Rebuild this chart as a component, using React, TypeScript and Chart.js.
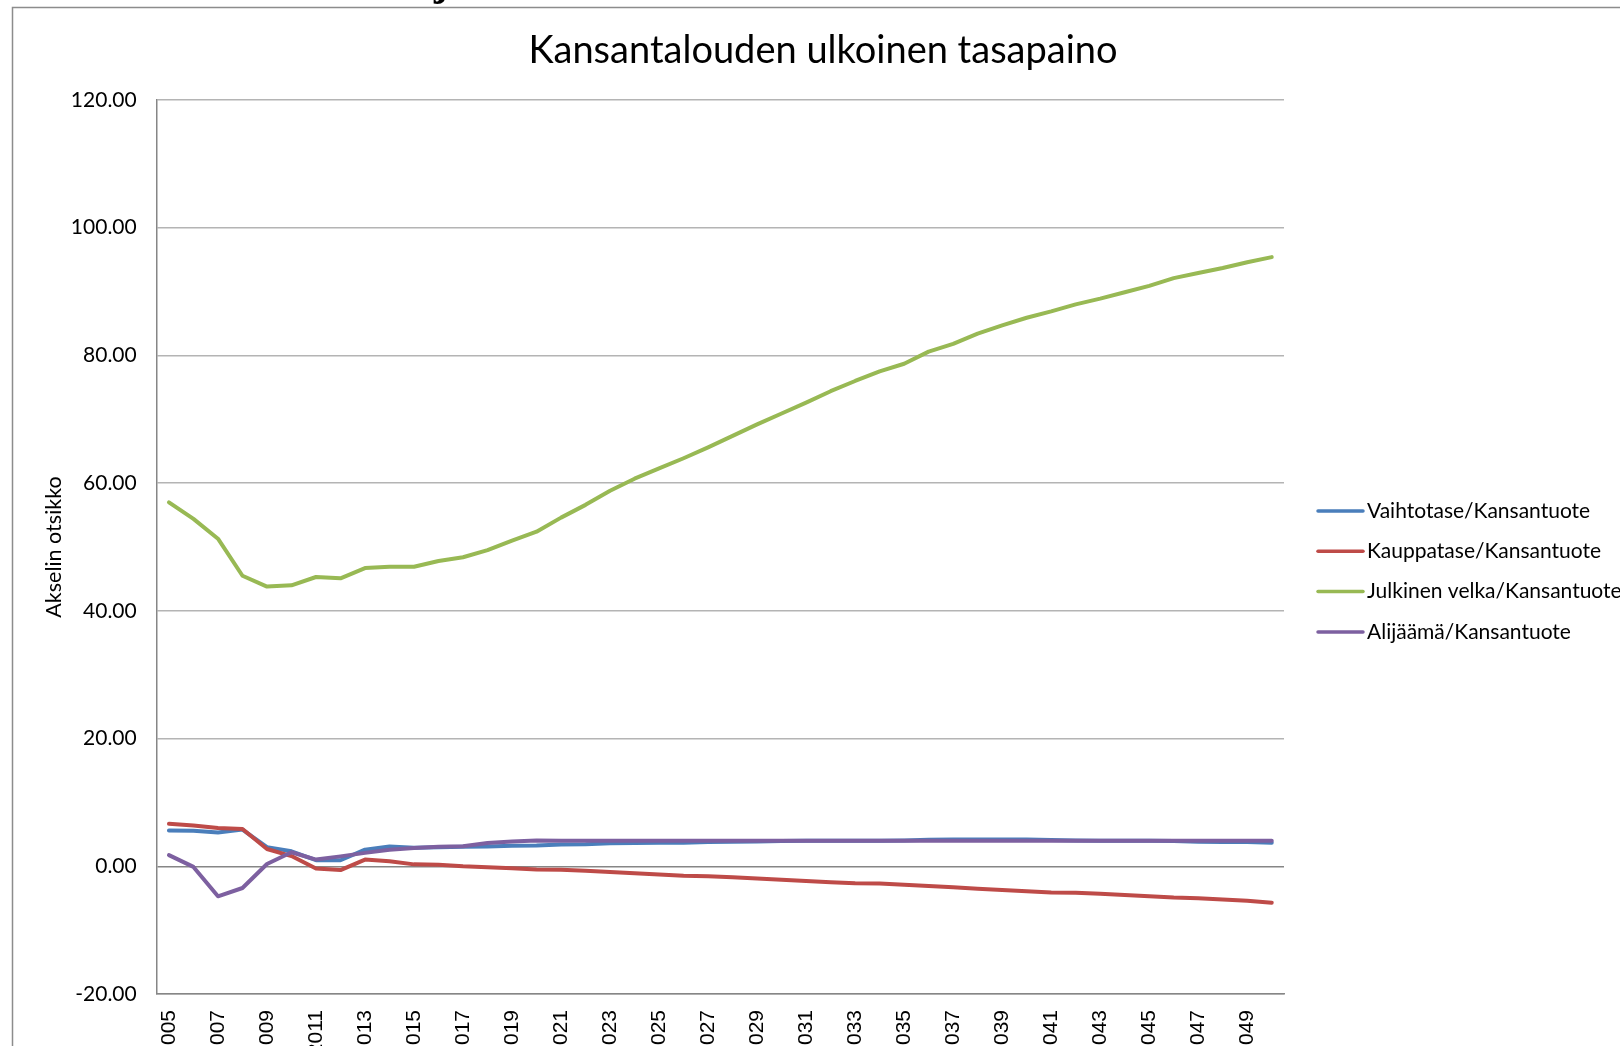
import React, { useEffect, useRef } from 'react';
import { Chart, registerables } from 'chart.js';

Chart.register(...registerables);

const years = [
  '2005', '2006', '2007', '2008', '2009', '2010', '2011', '2012', '2013', '2014',
  '2015', '2016', '2017', '2018', '2019', '2020', '2021', '2022', '2023', '2024',
  '2025', '2026', '2027', '2028', '2029', '2030', '2031', '2032', '2033', '2034',
  '2035', '2036', '2037', '2038', '2039', '2040', '2041', '2042', '2043', '2044',
  '2045', '2046', '2047', '2048', '2049', '2050',
];

const vaihtotase = [
  5.6, 5.55, 5.3, 5.75, 3.0, 2.35, 0.95, 0.95, 2.6, 3.1,
  2.9, 3.0, 3.05, 3.1, 3.2, 3.25, 3.4, 3.45, 3.6, 3.65,
  3.7, 3.7, 3.8, 3.85, 3.9, 3.95, 4.0, 4.0, 4.0, 4.0,
  4.05, 4.15, 4.2, 4.2, 4.2, 4.2, 4.1, 4.05, 4.0, 4.0,
  4.0, 3.95, 3.85, 3.8, 3.8, 3.7,
];

const kauppatase = [
  6.65, 6.4, 6.0, 5.85, 2.7, 1.6, -0.35, -0.6, 1.05, 0.8,
  0.3, 0.25, 0.0, -0.15, -0.3, -0.5, -0.55, -0.7, -0.9, -1.1,
  -1.3, -1.5, -1.55, -1.7, -1.9, -2.1, -2.3, -2.5, -2.65, -2.7,
  -2.9, -3.1, -3.3, -3.5, -3.7, -3.9, -4.1, -4.15, -4.3, -4.5,
  -4.7, -4.9, -5.0, -5.2, -5.4, -5.7,
];

const julkinenVelka = [
  57.0, 54.4, 51.3, 45.5, 43.8, 44.0, 45.3, 45.1, 46.7, 46.9,
  46.9, 47.8, 48.4, 49.5, 51.0, 52.4, 54.6, 56.6, 58.8, 60.7,
  62.3, 63.9, 65.6, 67.4, 69.2, 70.9, 72.6, 74.4, 76.0, 77.5,
  78.7, 80.6, 81.8, 83.4, 84.7, 85.9, 86.9, 88.0, 88.9, 89.9,
  90.9, 92.1, 92.9, 93.7, 94.6, 95.4,
];

const alijaama = [
  1.75, -0.1, -4.7, -3.4, 0.35, 2.2, 1.05, 1.55, 2.1, 2.6,
  2.85, 3.05, 3.15, 3.65, 3.9, 4.05, 4.0, 4.0, 4.0, 4.0,
  4.0, 4.0, 4.0, 4.0, 4.0, 4.0, 4.0, 4.0, 4.0, 4.0,
  4.0, 4.0, 4.0, 4.0, 4.0, 4.0, 4.0, 4.0, 4.0, 4.0,
  4.0, 4.0, 4.0, 4.0, 4.0, 4.0,
];

const seriesNames = [
  'Vaihtotase/Kansantuote',
  'Kauppatase/Kansantuote',
  'Julkinen velka/Kansantuote',
  'Alijäämä/Kansantuote',
];
const seriesColors = ['#4A7EBB', '#BE4B48', '#98B954', '#7D60A0'];

const chartTitle = 'Kansantalouden ulkoinen tasapaino';
const yAxisTitle = 'Akselin otsikko';
const yMin = -20;
const yMax = 120;
const yStep = 20;

const W = 1646;
const H = 1070;
const AREA_LEFT = 156.7;
const AREA_TOP = 100;
const AREA_RIGHT = 1284;
const AREA_BOTTOM = 994;
const FONT = 'Lato';

const framePlugin = {
  id: 'frame',
  beforeDraw(chart: any) {
    const ctx = chart.ctx;
    ctx.save();
    ctx.fillStyle = '#ffffff';
    ctx.fillRect(0, 0, chart.width, chart.height);
    ctx.strokeStyle = '#8c8c8c';
    ctx.lineWidth = 1.5;
    ctx.beginPath();
    ctx.moveTo(12.5, chart.height);
    ctx.lineTo(12.5, 7.5);
    ctx.lineTo(chart.width, 7.5);
    ctx.stroke();
    ctx.restore();
  },
};

const titlePlugin = {
  id: 'centredTitle',
  afterDraw(chart: any) {
    const ctx = chart.ctx;
    ctx.save();
    ctx.font = `38px ${FONT}`;
    ctx.fillStyle = '#000000';
    ctx.textAlign = 'center';
    ctx.textBaseline = 'alphabetic';
    ctx.fillText(chartTitle, chart.width / 2, 63);
    ctx.restore();
  },
};

const sideLegendPlugin = {
  id: 'sideLegend',
  afterDraw(chart: any) {
    const ctx = chart.ctx;
    ctx.save();
    const x0 = 1318;
    const x1 = 1363;
    const tx = 1367;
    const y0 = 511;
    const gap = 40.3;
    ctx.font = `21px ${FONT}`;
    ctx.textBaseline = 'middle';
    ctx.textAlign = 'left';
    chart.data.datasets.forEach((ds: any, i: number) => {
      const y = y0 + gap * i;
      ctx.strokeStyle = ds.borderColor;
      ctx.lineWidth = 3.5;
      ctx.lineCap = 'round';
      ctx.beginPath();
      ctx.moveTo(x0, y);
      ctx.lineTo(x1, y);
      ctx.stroke();
      ctx.fillStyle = '#000000';
      ctx.fillText(ds.label, tx, y);
    });
    ctx.restore();
  },
};

export default function App() {
  const ref = useRef<HTMLCanvasElement>(null);

  useEffect(() => {
    const canvas = ref.current;
    if (!canvas) return;
    const dataSeries = [vaihtotase, kauppatase, julkinenVelka, alijaama];
    const chart = new Chart(canvas, {
      type: 'line',
      data: {
        labels: years,
        datasets: dataSeries.map((d, i) => ({
          label: seriesNames[i],
          data: d,
          borderColor: seriesColors[i],
          backgroundColor: seriesColors[i],
          borderWidth: 4,
          pointRadius: 0,
          tension: 0,
          borderJoinStyle: 'round' as const,
          borderCapStyle: 'round' as const,
          order: 3 - i,
          fill: false,
        })),
      },
      options: {
        responsive: false,
        animation: false,
        devicePixelRatio: 1,
        layout: { padding: { left: 0, right: W - AREA_RIGHT, top: AREA_TOP, bottom: 0 } },
        plugins: {
          legend: { display: false },
          tooltip: { enabled: false },
          title: { display: false },
        },
        scales: {
          x: {
            offset: true,
            grid: { display: false, drawTicks: false },
            border: { color: '#868686', width: 1.5 },
            ticks: {
              autoSkip: false,
              maxRotation: 90,
              minRotation: 90,
              padding: 16,
              color: '#000000',
              font: { family: '"Liberation Sans"', size: 21 },
              callback: function (this: any, v: any, i: number) {
                return i % 2 === 0 ? this.getLabelForValue(v) : '';
              },
            },
            afterFit(scale: any) {
              scale.height = H - AREA_BOTTOM;
            },
          },
          y: {
            min: yMin,
            max: yMax,
            ticks: {
              stepSize: yStep,
              padding: 20,
              color: '#000000',
              font: { family: FONT, size: 21 },
              callback: (v: any) => Number(v).toFixed(2),
            },
            grid: {
              drawTicks: false,
              lineWidth: 1.5,
              color: (c: any) => (c.tick && c.tick.value === 0 ? '#868686' : '#b4b4b4'),
            },
            border: { color: '#868686', width: 1.5 },
            title: {
              display: true,
              text: yAxisTitle,
              color: '#000000',
              font: { family: FONT, size: 21.5 },
              padding: { top: 41, bottom: 0 },
            },
            afterFit(scale: any) {
              scale.width = AREA_LEFT;
            },
          },
        },
      },
      plugins: [framePlugin, titlePlugin, sideLegendPlugin],
    });
    return () => chart.destroy();
  }, []);

  return (
    <div
      style={{
        position: 'fixed',
        left: 0,
        top: 0,
        width: 1620,
        height: 1046,
        overflow: 'hidden',
        background: '#ffffff',
      }}
    >
      <canvas
        ref={ref}
        width={W}
        height={H}
        style={{ position: 'absolute', left: 0, top: 0, width: W, height: H }}
      />
      <div
        style={{
          position: 'absolute',
          left: 434,
          top: -41,
          fontFamily: '"Liberation Serif", serif',
          fontWeight: 'bold',
          fontSize: 44,
          lineHeight: '44px',
          color: '#000000',
        }}
      >
        j
      </div>
    </div>
  );
}
